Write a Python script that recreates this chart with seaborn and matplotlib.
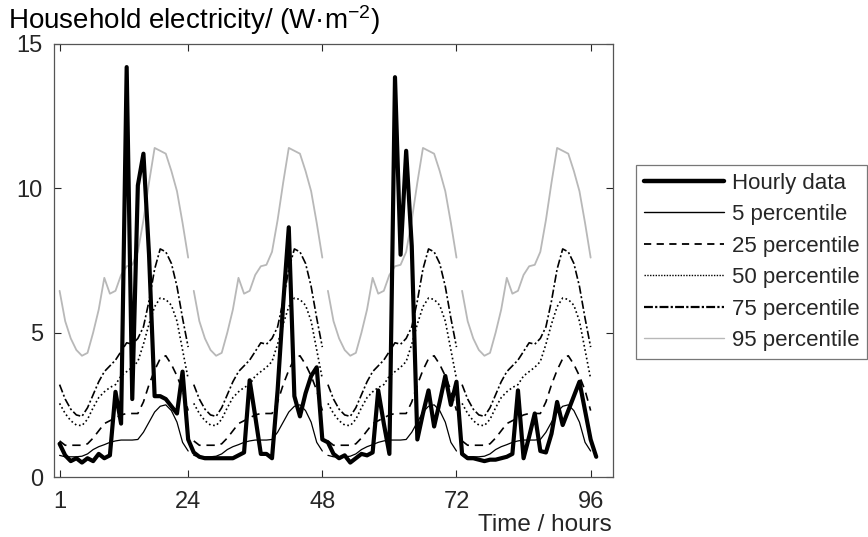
import numpy as np
import pandas as pd
import matplotlib
matplotlib.use("Agg")
import matplotlib.pyplot as plt
from matplotlib.lines import Line2D
import seaborn as sns

# ---------------- data ----------------
day_hours = list(range(1, 25))
days = [0, 1, 2, 3]

p5 = [0.75, 0.70, 0.70, 0.70, 0.72, 0.80, 0.95, 1.05, 1.12, 1.20, 1.25, 1.28,
      1.28, 1.28, 1.30, 1.55, 1.90, 2.25, 2.45, 2.50, 2.30, 1.90, 1.20, 0.90]
p25 = [1.25, 1.10, 1.10, 1.10, 1.10, 1.15, 1.35, 1.60, 1.85, 1.95, 2.05, 2.15,
       2.20, 2.20, 2.20, 2.60, 3.20, 3.70, 4.10, 4.20, 3.90, 3.50, 3.00, 2.30]
p50 = [2.55, 2.20, 1.95, 1.80, 1.78, 2.00, 2.40, 2.75, 2.95, 3.10, 3.20, 3.50,
       3.65, 3.80, 4.00, 4.60, 5.30, 5.90, 6.20, 6.15, 5.95, 5.40, 4.40, 3.40]
p75 = [3.20, 2.70, 2.35, 2.15, 2.10, 2.40, 2.85, 3.30, 3.65, 3.85, 4.05, 4.35,
       4.65, 4.60, 4.80, 5.20, 6.10, 7.20, 7.90, 7.80, 7.40, 6.60, 5.50, 4.50]
p95 = [6.45, 5.40, 4.80, 4.40, 4.20, 4.30, 5.00, 5.80, 6.90, 6.35, 6.45, 7.00,
       7.30, 7.35, 7.80, 8.90, 10.20, 11.40, 11.30, 11.20, 10.60, 9.90, 8.80, 7.60]

hourly = [1.15, 0.75, 0.55, 0.65, 0.50, 0.65, 0.55, 0.80, 0.65, 0.75, 2.95, 1.85,
          14.20, 2.70, 10.10, 11.20, 7.70, 2.80, 2.80, 2.70, 2.45, 2.20, 3.65, 1.30,
          0.85, 0.70, 0.65, 0.65, 0.65, 0.65, 0.65, 0.65, 0.75, 0.85, 3.35, 2.10,
          0.80, 0.80, 0.65, 3.00, 6.00, 8.65, 2.80, 2.10, 2.90, 3.50, 3.80, 1.30,
          1.20, 0.80, 0.65, 0.75, 0.50, 0.65, 0.80, 0.75, 0.85, 3.00, 1.85, 0.80,
          13.85, 7.70, 11.30, 8.00, 1.30, 2.20, 3.00, 1.75, 2.60, 3.50, 2.50, 3.30,
          0.80, 0.65, 0.65, 0.60, 0.55, 0.60, 0.60, 0.65, 0.70, 0.80, 3.00, 0.65,
          1.40, 2.20, 0.90, 0.85, 1.50, 2.60, 1.80, 2.30, 2.80, 3.30, 2.30, 1.30,
          0.70]
hourly_x = list(range(1, len(hourly) + 1))

x_ticks = [1, 24, 48, 72, 96]
y_ticks = [0, 5, 10, 15]
labels = ["Hourly data", "5 percentile", "25 percentile", "50 percentile",
          "75 percentile", "95 percentile"]

# ---------------- style ----------------
sns.set_theme(style="white")
plt.rcParams["font.family"] = ["Liberation Sans", "DejaVu Sans"]
plt.rcParams["mathtext.fontset"] = "custom"
plt.rcParams["mathtext.rm"] = "Liberation Sans"
plt.rcParams["mathtext.it"] = "Liberation Sans"
plt.rcParams["mathtext.bf"] = "Liberation Sans:bold"
plt.rcParams["axes.unicode_minus"] = False

text_col = "#262626"
grey95 = "#b8b8b8"

fig = plt.figure(figsize=(8.68, 5.37), dpi=100)
ax = fig.add_axes([54 / 868, 1 - 477 / 537, (613 - 54) / 868, (477 - 44) / 537])

def long_df(profile):
    rows = []
    for d in days:
        for h, v in zip(day_hours, profile):
            rows.append({"hour": h + 24 * d, "value": v, "day": d})
    return pd.DataFrame(rows)

styles = [
    (p95, dict(color=grey95, linewidth=1.3, linestyle="-")),
    (p75, dict(color="black", linewidth=1.2, dashes=(5, 1.5, 1.2, 1.5))),
    (p50, dict(color="black", linewidth=1.2, dashes=(1, 1.6))),
    (p25, dict(color="black", linewidth=1.2, dashes=(5, 3.5))),
    (p5, dict(color="black", linewidth=0.9, linestyle="-")),
]
for prof, kw in styles:
    df = long_df(prof)
    kw = dict(kw)
    kw.pop("linestyle", None)
    dashes = kw.pop("dashes", None)
    sns.lineplot(data=df, x="hour", y="value", units="day", estimator=None,
                 ax=ax, legend=False, **kw)
    for ln in ax.get_lines()[-len(days):]:
        if dashes is not None:
            ln.set_dashes(dashes)
        else:
            ln.set_linestyle("-")

hdf = pd.DataFrame({"hour": hourly_x, "value": hourly})
sns.lineplot(data=hdf, x="hour", y="value", ax=ax, color="black",
             linewidth=3.0, legend=False)

ax.set_xlim(0, 100)
ax.set_ylim(0, 15)
ax.set_xticks(x_ticks)
ax.set_xticklabels([str(t) for t in x_ticks])
ax.set_yticks(y_ticks)
ax.set_yticklabels([str(t) for t in y_ticks])
ax.set_xlabel("")
ax.set_ylabel("")
ax.tick_params(axis="both", direction="in", length=5, width=0.8,
               colors=text_col, labelsize=17, top=True, right=True,
               bottom=True, left=True)
ax.tick_params(axis="x", pad=10)
ax.tick_params(axis="y", pad=8)
for sp in ax.spines.values():
    sp.set_visible(True)
    sp.set_color("#555555")
    sp.set_linewidth(0.9)

fig.text(8 / 868, 1 - 3 / 537, "Household electricity/ (W·m$^{-2}$)",
         ha="left", va="top", fontsize=20, color="black")
fig.text(612 / 868, 1 - 531 / 537, "Time / hours", ha="right",
         va="baseline", fontsize=17.5, color=text_col)

handles = [
    Line2D([], [], color="black", linewidth=3.2),
    Line2D([], [], color="black", linewidth=1.0),
    Line2D([], [], color="black", linewidth=1.3, dashes=(4, 3)),
    Line2D([], [], color="black", linewidth=1.0, dashes=(1, 1)),
    Line2D([], [], color="black", linewidth=1.6, dashes=(4, 1, 1, 1)),
    Line2D([], [], color=grey95, linewidth=1.0),
]
leg = fig.legend(handles=handles, labels=labels, loc="upper left",
                 bbox_to_anchor=(636 / 868, 1 - 165 / 537), frameon=True,
                 fancybox=False, fontsize=16, handlelength=3.6,
                 handletextpad=0.35, labelspacing=0.47, borderpad=0.35,
                 borderaxespad=0)
leg.get_frame().set_edgecolor("#555555")
leg.get_frame().set_linewidth(0.9)

fig.savefig("out.png", dpi=100)
